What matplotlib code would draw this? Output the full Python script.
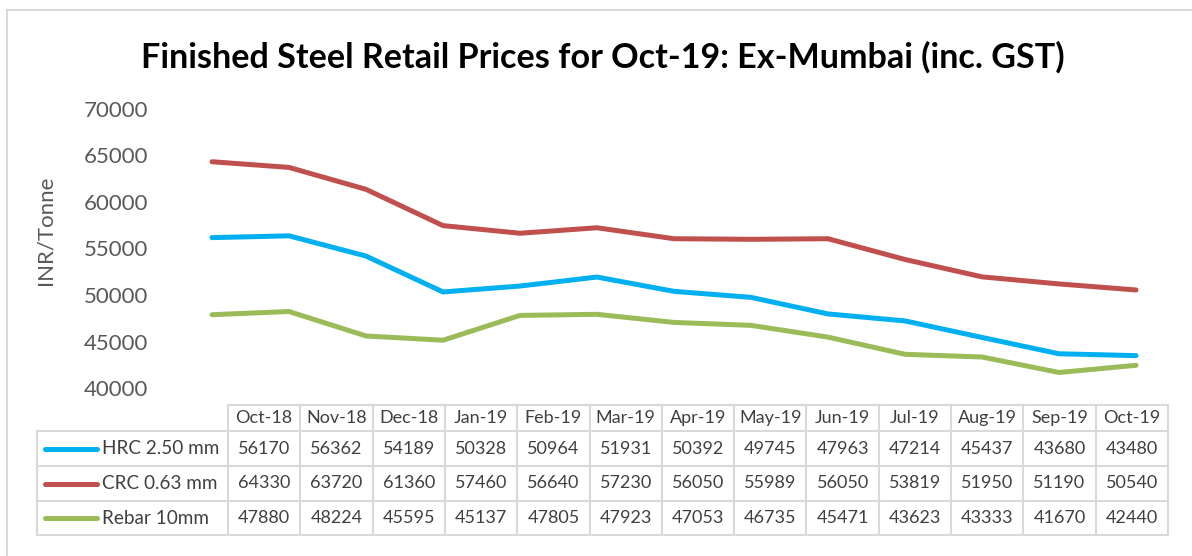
import matplotlib
matplotlib.use("Agg")
import matplotlib.pyplot as plt

plt.rcParams["font.family"] = ["Lato", "DejaVu Sans"]

months = ["Oct-18", "Nov-18", "Dec-18", "Jan-19", "Feb-19", "Mar-19", "Apr-19",
          "May-19", "Jun-19", "Jul-19", "Aug-19", "Sep-19", "Oct-19"]
series_names = ["HRC 2.50 mm", "CRC 0.63 mm", "Rebar 10mm"]
hrc = [56170, 56362, 54189, 50328, 50964, 51931, 50392, 49745, 47963, 47214, 45437, 43680, 43480]
crc = [64330, 63720, 61360, 57460, 56640, 57230, 56050, 55989, 56050, 53819, 51950, 51190, 50540]
rebar = [47880, 48224, 45595, 45137, 47805, 47923, 47053, 46735, 45471, 43623, 43333, 41670, 42440]
colors = ["#00B0F0", "#C0504D", "#9BBB59"]

W, H = 1192, 556
fig = plt.figure(figsize=(W / 100, H / 100), dpi=100)

# plot area in pixel terms
left, right, top, bottom = 212, 1136, 109, 388
ax = fig.add_axes([left / W, 1 - bottom / H, (right - left) / W, (bottom - top) / H])
x = list(range(len(months)))
for vals, c in zip([hrc, crc, rebar], colors):
    ax.plot(x, vals, color=c, lw=3.6, solid_capstyle="round", solid_joinstyle="round", clip_on=False)
ax.set_xlim(0, len(months) - 1)
ax.set_ylim(40000, 70000)
ax.set_yticks(range(40000, 70001, 5000))
ax.set_xticks([])
ax.tick_params(axis="y", length=0, pad=46, labelsize=16, labelcolor="#595959")
for s in ax.spines.values():
    s.set_visible(False)

fig.text(45 / W, 1 - 230 / H, "INR/Tonne", rotation=90, ha="center", va="center",
         fontsize=16, color="#595959")
fig.text(603 / W, 1 - 57 / H, "Finished Steel Retail Prices for Oct-19: Ex-Mumbai (inc. GST)",
         ha="center", va="center", fontsize=24.6, fontweight="bold", color="black")

# overlay in pixel coords for table and border
ov = fig.add_axes([0, 0, 1, 1], zorder=-1)
ov.set_xlim(0, W)
ov.set_ylim(H, 0)
ov.axis("off")
gray = "#D9D9D9"
ov.plot([7, W], [10, 10], color=gray, lw=1.5)
ov.plot([7, 7], [10, H], color=gray, lw=1.5)

tx0, tx1 = 228, 1168
leg_x = 37
row_y = [405, 431, 466, 501, 535]
cw = (tx1 - tx0) / len(months)
ov.plot([tx0, tx1], [row_y[0]] * 2, color=gray, lw=1.5)
for yy in row_y[1:]:
    ov.plot([leg_x, tx1], [yy] * 2, color=gray, lw=1.5)
ov.plot([leg_x, leg_x], [row_y[1], row_y[-1]], color=gray, lw=1.5)
for i in range(len(months) + 1):
    ov.plot([tx0 + i * cw] * 2, [row_y[0], row_y[-1]], color=gray, lw=1.5)

txt = "#404040"
for i, m in enumerate(months):
    ov.text(tx0 + (i + 0.5) * cw, (row_y[0] + row_y[1]) / 2, m, ha="center", va="center",
            fontsize=13, color=txt)
for r, (name, vals, c) in enumerate(zip(series_names, [hrc, crc, rebar], colors)):
    yc = (row_y[r + 1] + row_y[r + 2]) / 2
    ov.plot([45, 97], [yc, yc], color=c, lw=3.6, solid_capstyle="round")
    ov.text(102, yc, name, ha="left", va="center", fontsize=13.6, color=txt)
    for i, v in enumerate(vals):
        ov.text(tx0 + (i + 0.5) * cw, yc, str(v), ha="center", va="center", fontsize=13, color=txt)

fig.savefig("out.png", dpi=100)
